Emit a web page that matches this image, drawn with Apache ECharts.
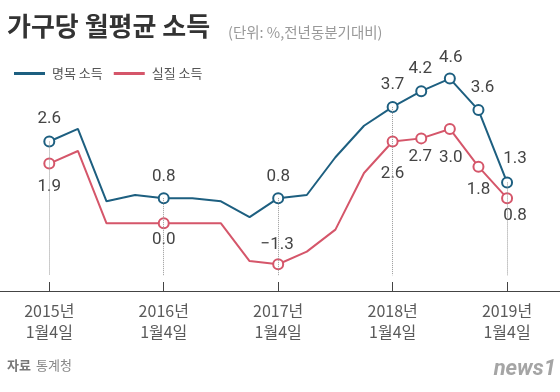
<!DOCTYPE html>
<html><head><meta charset="utf-8">
<script src="https://cdn.jsdelivr.net/npm/echarts@6/dist/echarts.min.js"></script>
<style>html,body{margin:0;padding:0;background:#fff}#c{width:560px;height:392px}</style>
</head><body><div id="c"></div>
<script>
// ---- data ----
const quarters = ['2015Q1','2015Q2','2015Q3','2015Q4','2016Q1','2016Q2','2016Q3','2016Q4',
  '2017Q1','2017Q2','2017Q3','2017Q4','2018Q1','2018Q2','2018Q3','2018Q4','2019Q1'];
const nominal = [2.6, 3.0, 0.7, 0.9, 0.8, 0.8, 0.7, 0.2, 0.8, 0.9, 2.1, 3.1, 3.7, 4.2, 4.6, 3.6, 1.3];
const real    = [1.9, 2.3, 0.0, 0.0, 0.0, 0.0, 0.0, -1.2, -1.3, -0.9, -0.2, 1.6, 2.6, 2.7, 3.0, 1.8, 0.8];
const tickIdx = [0, 4, 8, 12, 16];
const tickLabels = ['2015년\n1월4일', '2016년\n1월4일', '2017년\n1월4일', '2018년\n1월4일', '2019년\n1월4일'];
const labeledIdx = [0, 4, 8, 12, 13, 14, 15, 16];
const seriesNames = ['명목 소득', '실질 소득'];

// ---- styling ----
const C_NOM = '#1d5f80', C_REAL = '#d5566a';
const KR = '"Noto Sans CJK KR", "Noto Sans", sans-serif';
const NUM = 'Roboto, "Noto Sans", sans-serif';
const nomOffsets = {0:[0,-23],4:[0,-21],8:[0,-21],12:[0,-22],13:[-1,-22],14:[1,-21],15:[4,-22],16:[8,-24]};
const realOffsets = {0:[0,23],4:[0,16],8:[-1,-20],12:[0,32],13:[-1,18],14:[1,29],15:[0,23],16:[8,18]};

function buildData(vals, offsets){
  return vals.map((v,i)=>{
    if (labeledIdx.indexOf(i) < 0) return {value:[i,v], symbol:'none'};
    return {value:[i,v], label:{show:true, position:'inside', offset:offsets[i]}};
  });
}
const fmt = p => { const v = p.value[1]; return (v < 0 ? '\u2212' : '') + Math.abs(v).toFixed(1); };

const chart = echarts.init(document.getElementById('c'), null, {renderer:'canvas'});
chart.setOption({
  animation:false,
  backgroundColor:'#fff',
  grid:{left:0, right:0, top:66, bottom:101},
  xAxis:{
    type:'value', min:-1.723, max:17.85,
    splitLine:{show:false},
    axisLine:{show:true, onZero:false, lineStyle:{color:'#444', width:1}},
    axisTick:{show:true, inside:true, length:9, customValues:tickIdx, lineStyle:{color:'#444'}},
    axisLabel:{show:true, customValues:tickIdx, margin:9, fontSize:16, lineHeight:21, color:'#5a5a5a',
      fontFamily:KR, formatter:v=>tickLabels[tickIdx.indexOf(Math.round(v))] || ''}
  },
  yAxis:{type:'value', min:-2.15, max:5, show:false, splitLine:{show:false}},
  legend:{
    left:9, top:62, itemWidth:31, itemHeight:3, itemGap:11, icon:'rect',
    itemStyle:{borderWidth:0},
    textStyle:{fontFamily:KR, fontSize:13, color:'#555', padding:[0,0,0,2]},
    data:[
      {name:seriesNames[0], itemStyle:{color:C_NOM, borderWidth:0}},
      {name:seriesNames[1], itemStyle:{color:C_REAL, borderWidth:0}}
    ]
  },
  series:[
    {
      type:'line', name:'guides', data:[], z:1, silent:true,
      markLine:{silent:true, symbol:'none', label:{show:false},
        lineStyle:{type:'dotted', color:'#999', width:1},
        data: tickIdx.map(i=>[{coord:[i, nominal[i]]},{coord:[i,-1.65]}])}
    },
    {
      type:'line', name:seriesNames[0], data:buildData(nominal, nomOffsets), z:3,
      symbol:'circle', symbolSize:10,
      itemStyle:{color:'#fff', borderColor:C_NOM, borderWidth:2},
      lineStyle:{color:C_NOM, width:2},
      label:{show:false, formatter:fmt, fontFamily:NUM, fontSize:17, color:'#444'}
    },
    {
      type:'line', name:seriesNames[1], data:buildData(real, realOffsets), z:2,
      symbol:'circle', symbolSize:10,
      itemStyle:{color:'#fff', borderColor:C_REAL, borderWidth:2},
      lineStyle:{color:C_REAL, width:2},
      label:{show:false, formatter:fmt, fontFamily:NUM, fontSize:17, color:'#444'}
    }
  ],
  graphic:[
    {type:'text', left:7, top:13, style:{text:'가구당 월평균 소득', font:'bold 26px '+KR, fill:'#333'}},
    {type:'text', left:228, top:25, style:{text:'(단위: %,전년동분기대비)', font:'14.5px '+KR, fill:'#999'}},
    {type:'text', left:7, top:359, style:{text:'자료', font:'bold 13px '+KR, fill:'#777'}},
    {type:'text', left:36, top:359, style:{text:'통계청', font:'13px '+KR, fill:'#888'}},
    {type:'text', right:4, top:358, style:{text:'news1', font:'italic bold 22px '+NUM, fill:'#a5a5a5'}}
  ]
});
</script>
</body></html>
